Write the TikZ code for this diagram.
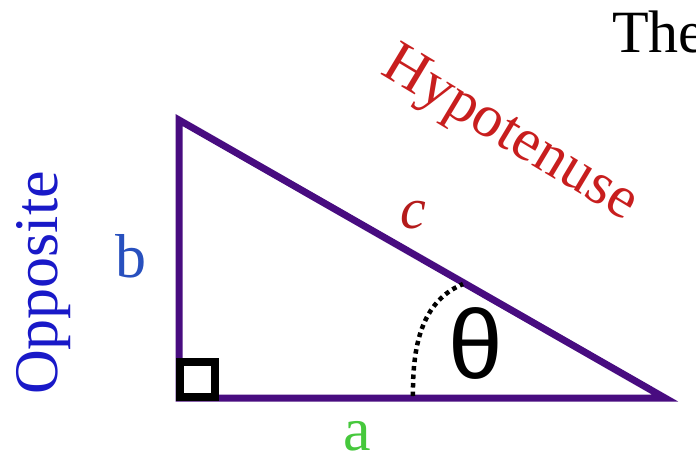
\documentclass[tikz,border=0pt]{standalone}
\usepackage{fontspec}
\setmainfont{Liberation Serif}
\newfontfamily\thetafont{Liberation Sans}
\usepackage{xcolor}
\usepackage{tikz}
\usetikzlibrary{positioning}
\definecolor{tripurple}{RGB}{72, 12, 128}
\definecolor{hypred}{RGB}{200, 30, 30}
\definecolor{oppblue}{RGB}{25, 25, 200}
\definecolor{sideblue}{RGB}{40, 80, 190}
\definecolor{adjgreen}{RGB}{70, 200, 60}

\tikzset{
  sidelabel/.style={inner sep=0pt, anchor=base},
}

\begin{document}
\begin{tikzpicture}[x=1pt, y=-1pt]
  \useasboundingbox (0,0) rectangle (696,456);

  % corners of the triangle
  \coordinate (top) at (179,120);
  \coordinate (rightangle) at (179,398);
  \coordinate (tip) at (665,398);

  \draw[tripurple, line width=7pt] (top) -- (rightangle) -- (tip) -- cycle;

  % right angle mark
  \draw[black, line width=8pt] (179.5,397) rectangle (215,362);

  % angle theta
  \coordinate (arcbase) at (413,396);
  \coordinate (arctop) at (463,284);
  \draw[black, line width=4.5pt, dash pattern=on 4.5pt off 4pt]
        (arcbase) .. controls (412,330) and (430,298) .. (arctop);

  \node[sidelabel, font=\fontsize{98}{98}\selectfont\thetafont] (theta) at (476,378) {θ};

  \node[sidelabel, font=\fontsize{60}{60}\selectfont, text=hypred, anchor=center, rotate=-31]
        (hyp) at (509,136) {Hypotenuse};
  \node[sidelabel, font=\fontsize{58}{58}\selectfont\itshape, text=hypred!90!black] (c) at (413,228) {c};
  \node[sidelabel, font=\fontsize{62}{62}\selectfont, text=oppblue, rotate=90] (opp) at (57,283) {Opposite};
  \node[sidelabel, font=\fontsize{62}{62}\selectfont, text=sideblue] (b) at (131,277) {b};
  \node[sidelabel, font=\fontsize{62}{62}\selectfont, text=adjgreen] (a) at (357,450) {a};

  \node[inner sep=0pt, anchor=base west, font=\fontsize{60}{60}\selectfont] (title) at (612,52) {The};
\end{tikzpicture}
\end{document}
